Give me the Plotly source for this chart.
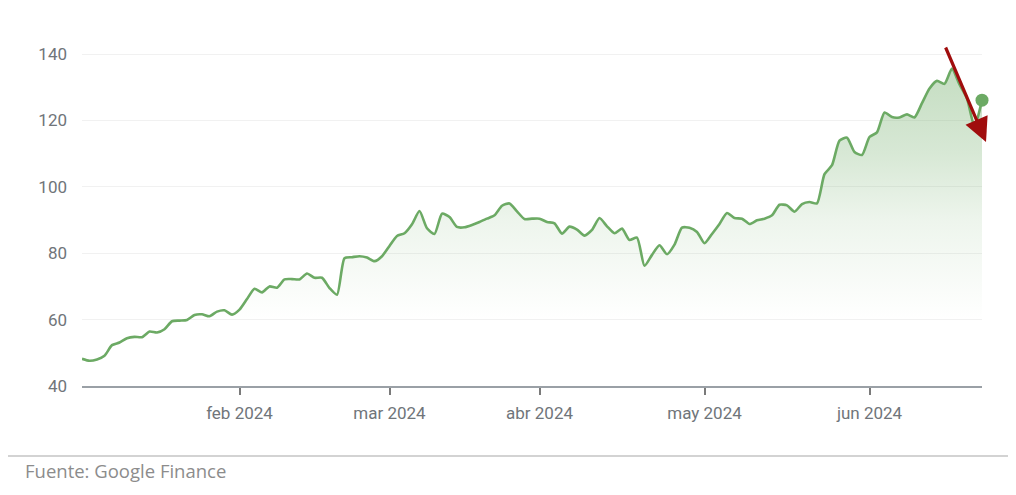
import pandas as pd
import plotly.graph_objects as go

# Trading-day closing prices (USD), 2 Jan 2024 - 25 Jun 2024
holidays = ["2024-01-15", "2024-02-19", "2024-03-29", "2024-05-27", "2024-06-19"]
dates = pd.bdate_range("2024-01-02", "2024-06-25", freq="C", holidays=holidays)

jan = [48.2, 47.6, 48.0, 49.1, 52.3, 53.1, 54.4, 54.8, 54.7, 56.4, 56.1,
       57.1, 59.5, 59.7, 59.9, 61.4, 61.6, 61.0, 62.4, 62.8, 61.5]
feb = [63.0, 66.2, 69.3, 68.2, 70.0, 69.6, 72.1, 72.2, 72.1, 73.9, 72.6,
       72.6, 69.5, 67.5, 78.5, 78.8, 79.1, 78.7, 77.6, 79.1]
mar = [82.2, 85.2, 86.0, 88.7, 92.7, 87.5, 85.8, 91.9, 90.9, 87.9, 87.8,
       88.5, 89.4, 90.4, 91.4, 94.3, 95.0, 92.6, 90.3, 90.4]
apr = [90.4, 89.4, 89.0, 85.9, 88.0, 87.1, 85.3, 87.0, 90.6, 88.1, 86.0,
       87.4, 84.0, 84.7, 76.2, 79.5, 82.4, 79.7, 82.6, 87.7, 87.7, 86.4]
may = [83.0, 85.8, 88.8, 92.1, 90.6, 90.4, 88.8, 89.9, 90.4, 91.4, 94.6,
       94.4, 92.5, 94.8, 95.4, 95.0, 103.8, 106.5, 113.9, 114.8, 110.5, 109.6]
jun = [115.0, 116.4, 122.4, 121.0, 120.9, 121.8, 120.9, 125.2, 129.6, 131.9,
       131.0, 135.6, 130.8, 126.6, 118.1, 126.1]
prices = jan + feb + mar + apr + may + jun

tick_dates = ["2024-02-01", "2024-03-01", "2024-04-01", "2024-05-01", "2024-06-03"]
tick_labels = ["feb 2024", "mar 2024", "abr 2024", "may 2024", "jun 2024"]
y_ticks = [40, 60, 80, 100, 120, 140]

GREEN = "rgb(108,170,100)"
GRAY_TXT = "#70757a"

# page body has an 8px margin: work in page pixels, convert to figure pixels
OFF = 8
W, H = 1016 - OFF, 495 - OFF
L = 82 - OFF
T = 40 - OFF
R = W - (982 - OFF)
B = H - (386 - OFF)
pw, ph = W - L - R, H - T - B

def px(x):
    return (x - OFF - L) / pw

def py(y):
    return (H - B - (y - OFF)) / ph

fig = go.Figure()
fig.add_trace(go.Scatter(
    x=dates, y=prices, mode="lines",
    line=dict(color=GREEN, width=2.6, shape="spline", smoothing=0.6),
    fill="tozeroy",
    fillgradient=dict(
        type="vertical", start=60, stop=140,
        colorscale=[[0, "rgba(108,170,100,0)"], [0.375, "rgba(108,170,100,0.12)"],
                    [0.625, "rgba(108,170,100,0.27)"], [1, "rgba(108,170,100,0.42)"]],
    ),
    hoverinfo="skip", showlegend=False,
))
fig.add_trace(go.Scatter(
    x=[dates[-1]], y=[prices[-1]], mode="markers",
    marker=dict(color=GREEN, size=13), cliponaxis=False,
    hoverinfo="skip", showlegend=False,
))

fig.add_annotation(
    x=px(986), y=py(142), xref="paper", yref="paper",
    ax=-41, ay=-96, showarrow=True, text="",
    arrowhead=2, arrowsize=1.5, arrowwidth=3.2, arrowcolor="#a00d0d",
)
fig.add_shape(type="line", xref="paper", yref="paper",
              x0=px(OFF), x1=px(1016), y0=py(456), y1=py(456),
              line=dict(color="#c4c4c4", width=1.5))
fig.add_annotation(
    x=px(23), y=py(470), xref="paper", yref="paper", xanchor="left", yanchor="middle",
    text="Fuente: Google Finance", showarrow=False,
    font=dict(family="Open Sans", size=18.5, color="#8c8c8c"),
)

fig.update_layout(
    width=W, height=H, margin=dict(l=L, r=R, t=T, b=B),
    paper_bgcolor="white", plot_bgcolor="white",
    font=dict(family="Roboto", color=GRAY_TXT, size=17),
    xaxis=dict(
        range=[dates[0], dates[-1]],
        rangebreaks=[dict(bounds=["sat", "mon"]), dict(values=holidays)],
        tickvals=tick_dates, ticktext=tick_labels,
        showgrid=False, zeroline=False,
        showline=True, linecolor="#9aa0a6", linewidth=1.5,
        ticks="outside", ticklen=7, tickwidth=2, tickcolor="#7a7a7a",
        tickfont=dict(size=17, color=GRAY_TXT), ticklabelstandoff=4,
    ),
    yaxis=dict(
        range=[40, 40 + ph / 3.32],
        tickvals=y_ticks, showgrid=True, gridcolor="#f1f1f1", gridwidth=1,
        zeroline=False, showline=False, ticks="",
        tickfont=dict(size=17, color=GRAY_TXT), ticklabelstandoff=14,
    ),
)

fig.write_html("out.html")
